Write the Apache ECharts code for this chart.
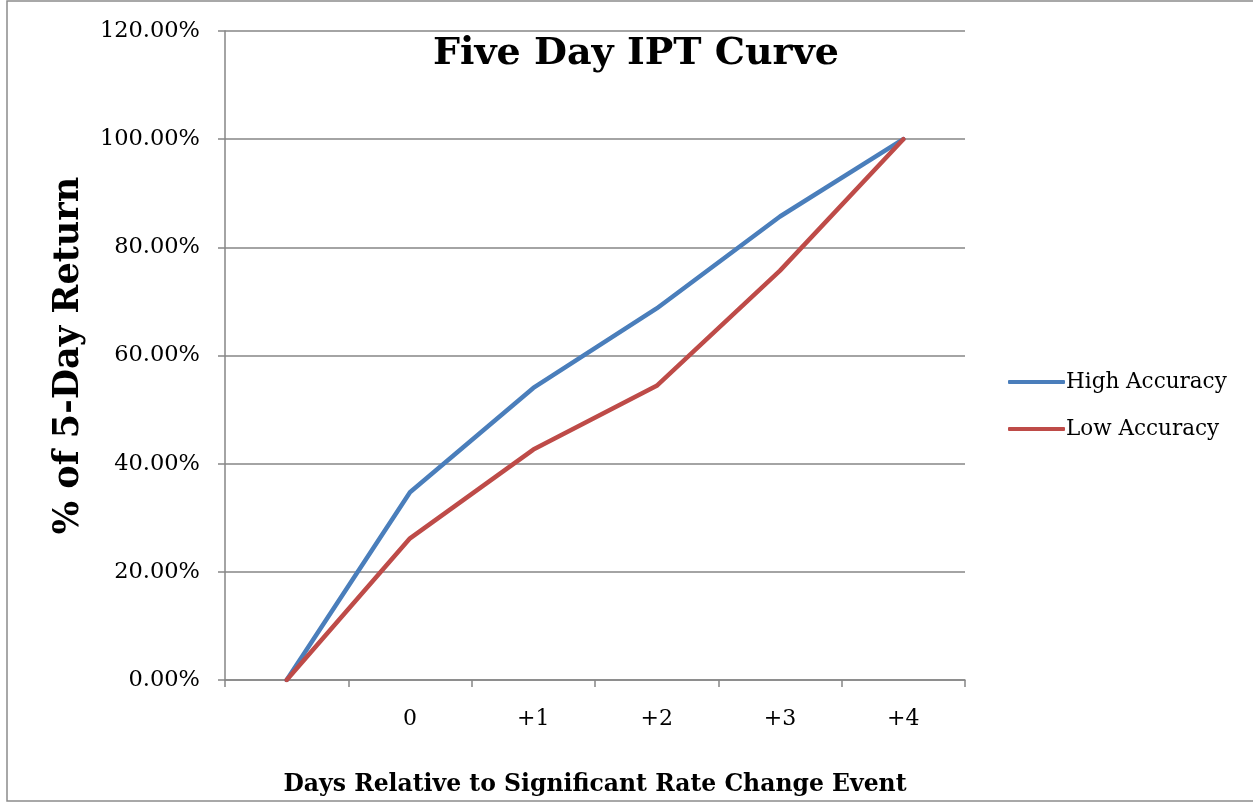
<!DOCTYPE html>
<html>
<head>
<meta charset="utf-8">
<script src="https://cdn.jsdelivr.net/npm/echarts@6/dist/echarts.min.js"></script>
<style>html,body{margin:0;padding:0;background:#fff;overflow:hidden}#c{width:1253px;height:802px}</style>
</head>
<body>
<div id="c"></div>
<script>
const categories = ['', '0', '+1', '+2', '+3', '+4'];
const highAccuracy = [0, 0.347, 0.540, 0.687, 0.857, 1.0];
const lowAccuracy = [0, 0.262, 0.426, 0.544, 0.757, 1.0];
const yTicks = { min: 0, max: 1.2, interval: 0.2 };

const FONT = 'DejaVu Serif';
const chart = echarts.init(document.getElementById('c'), null, { renderer: 'canvas' });
chart.setOption({
  backgroundColor: '#fff',
  animation: false,
  graphic: [{
    type: 'rect', shape: { x: 7, y: 1, width: 1260, height: 800 },
    style: { fill: 'none', stroke: '#8c8c8c', lineWidth: 1.5 }, silent: true, z: -1
  }],
  title: {
    text: 'Five Day IPT Curve', left: 631, top: 30, textAlign: 'center',
    textStyle: { fontFamily: FONT, fontWeight: 'bold', fontSize: 38, color: '#000' }
  },
  legend: {
    orient: 'vertical', left: 1003, top: 366, itemGap: 25, itemWidth: 57, itemHeight: 4,
    icon: 'roundRect',
    textStyle: { fontFamily: FONT, fontSize: 21.5, color: '#000', padding: [0, 0, 0, -4] },
    data: ['High Accuracy', 'Low Accuracy']
  },
  grid: { left: 225, right: 288, top: 31, bottom: 119, containLabel: false },
  xAxis: {
    type: 'category', data: categories, boundaryGap: true,
    name: 'Days Relative to Significant Rate Change Event', nameLocation: 'middle', nameGap: 93,
    nameTextStyle: { fontFamily: FONT, fontWeight: 'bold', fontSize: 23.5, color: '#000' },
    axisLine: { lineStyle: { color: '#868686', width: 1.5 } },
    axisTick: { show: true, alignWithLabel: false, length: 7, inside: false, lineStyle: { color: '#868686', width: 1.5 } },
    axisLabel: { fontFamily: FONT, fontSize: 22, color: '#000', margin: 28 },
    splitLine: { show: false }
  },
  yAxis: {
    type: 'value', min: yTicks.min, max: yTicks.max, interval: yTicks.interval,
    name: '% of 5-Day Return', nameLocation: 'middle', nameGap: 139, nameRotate: 90,
    nameTextStyle: { fontFamily: FONT, fontWeight: 'bold', fontSize: 35, color: '#000' },
    axisLine: { show: true, lineStyle: { color: '#868686', width: 1.5 } },
    axisTick: { show: true, length: 7, lineStyle: { color: '#868686', width: 1.5 } },
    axisLabel: { fontFamily: FONT, fontSize: 22.5, color: '#000', margin: 25,
      formatter: v => (v * 100).toFixed(2) + '%' },
    splitLine: { show: true, lineStyle: { color: '#868686', width: 1.5 } }
  },
  series: [
    { name: 'High Accuracy', type: 'line', data: highAccuracy, symbol: 'none',
      lineStyle: { color: '#4a7ebb', width: 4.5, cap: 'round', join: 'round' }, itemStyle: { color: '#4a7ebb' }, z: 3 },
    { name: 'Low Accuracy', type: 'line', data: lowAccuracy, symbol: 'none',
      lineStyle: { color: '#be4b48', width: 4.5, cap: 'round', join: 'round' }, itemStyle: { color: '#be4b48' }, z: 4 }
  ]
});
</script>
</body>
</html>
